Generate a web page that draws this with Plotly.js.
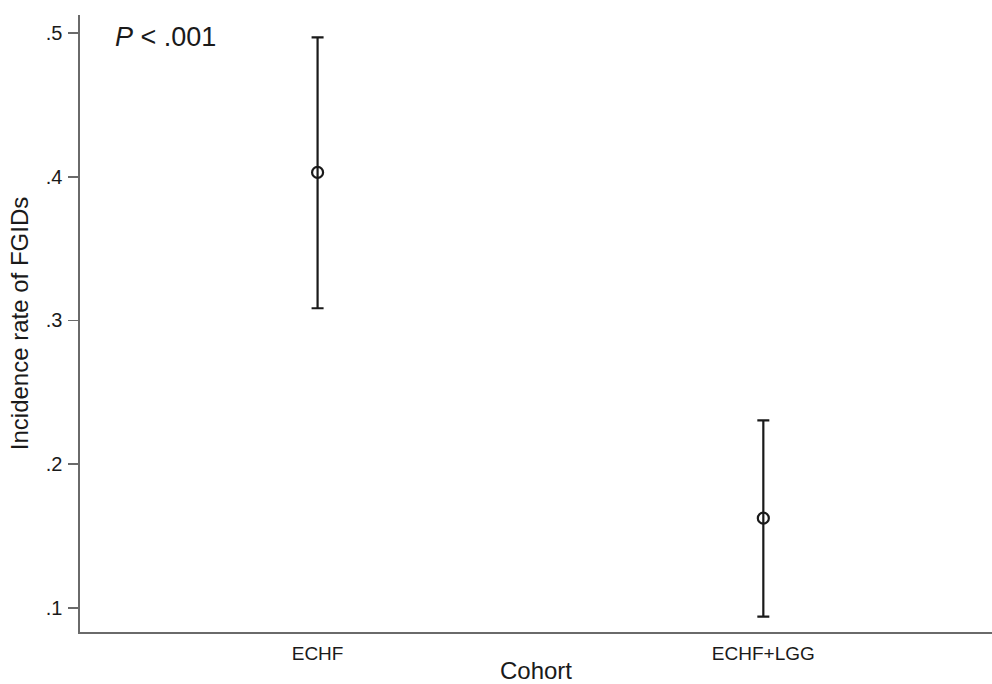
<!DOCTYPE html>
<html>
<head>
<meta charset="utf-8">
<script src="https://cdn.plot.ly/plotly-3.0.1.min.js"></script>
<style>html,body{margin:0;padding:0;background:#fff}#chart{width:992px;height:684px}</style>
</head>
<body>
<div id="chart"></div>
<script>
const cohorts = ['ECHF', 'ECHF+LGG'];
const rate = [0.403, 0.1625];
const upper = [0.497, 0.2305];
const lower = [0.3085, 0.094];
const yTickVals = [0.1, 0.2, 0.3, 0.4, 0.5];
const yTickText = ['.1', '.2', '.3', '.4', '.5'];

const trace = {
  type: 'scatter',
  mode: 'markers',
  x: cohorts,
  y: rate,
  marker: {symbol: 'circle-open', size: 11, color: '#1a1a1a', line: {width: 2.2, color: '#1a1a1a'}},
  error_y: {
    type: 'data', symmetric: false,
    array: upper.map((u, i) => u - rate[i]),
    arrayminus: lower.map((l, i) => rate[i] - l),
    color: '#1a1a1a', thickness: 2.2, width: 6
  },
  showlegend: false,
  hoverinfo: 'skip'
};

const font = 'Liberation Sans, Arial, Helvetica, sans-serif';
const layout = {
  width: 992, height: 684,
  margin: {l: 80, r: 0, t: 15, b: 52},
  paper_bgcolor: '#fff', plot_bgcolor: '#fff',
  font: {family: font, color: '#1a1a1a'},
  xaxis: {
    type: 'category',
    range: [-0.533, 1.513],
    showgrid: false, zeroline: false,
    showline: true, linecolor: '#6a6a6a', linewidth: 1.6,
    ticks: '', ticklabelstandoff: 4,
    tickfont: {size: 19, color: '#1a1a1a'},
    title: {text: 'Cohort', font: {size: 24, color: '#1a1a1a'}, standoff: 7}
  },
  yaxis: {
    range: [0.0833, 0.5125],
    tickvals: yTickVals, ticktext: yTickText,
    showgrid: false, zeroline: false,
    showline: true, linecolor: '#6a6a6a', linewidth: 1.6,
    ticks: 'outside', ticklen: 10, tickcolor: '#6a6a6a', tickwidth: 1.6,
    ticklabelstandoff: 2,
    tickfont: {size: 20, color: '#1a1a1a'},
    title: {text: 'Incidence rate of FGIDs', font: {size: 24, color: '#1a1a1a'}, standoff: 10}
  },
  annotations: [{
    xref: 'paper', yref: 'y',
    x: 0.036, y: 0.4975,
    xanchor: 'left', yanchor: 'middle',
    text: '<i>P</i> &lt; .001',
    showarrow: false,
    font: {size: 27, color: '#1a1a1a', family: font}
  }]
};

Plotly.newPlot('chart', [trace], layout, {staticPlot: true, displayModeBar: false});
</script>
</body>
</html>
